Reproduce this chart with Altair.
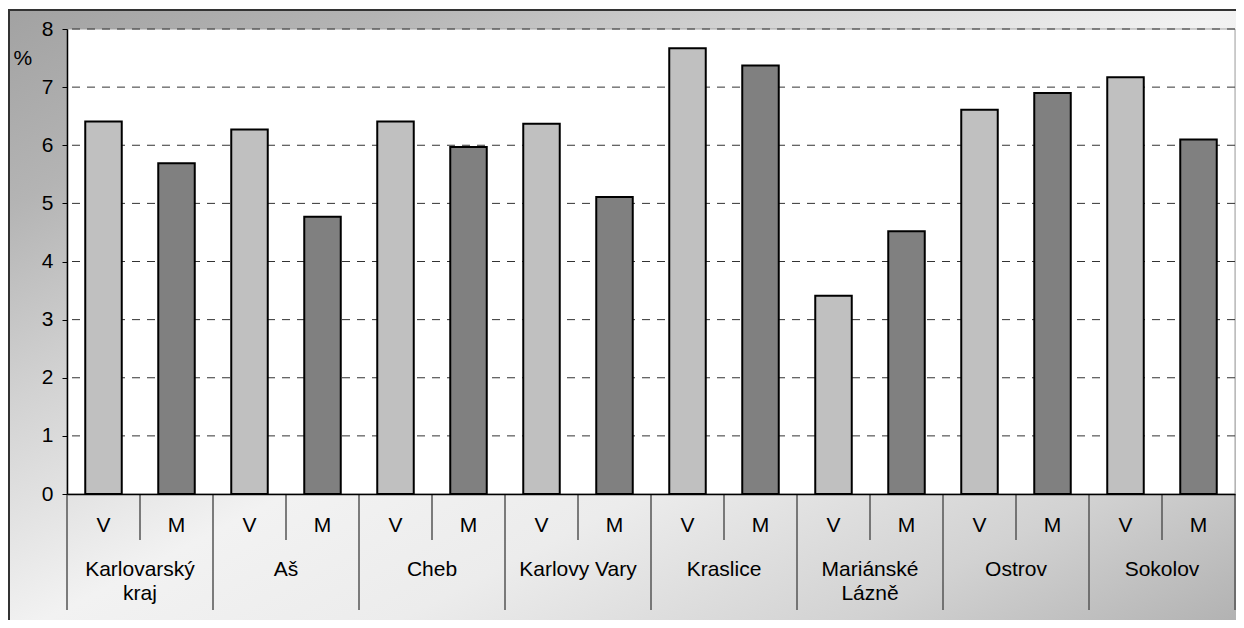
import altair as alt
import pandas as pd

# ---- data ----
regions = ["Karlovarský kraj", "Aš", "Cheb", "Karlovy Vary", "Kraslice",
           "Mariánské Lázně", "Ostrov", "Sokolov"]
region_labels = ["Karlovarský\nkraj", "Aš", "Cheb", "Karlovy Vary", "Kraslice",
                 "Mariánské\nLázně", "Ostrov", "Sokolov"]
groups = ["V", "M"]
v_values = [6.41, 6.27, 6.41, 6.37, 7.67, 3.41, 6.61, 7.17]
m_values = [5.69, 4.77, 5.97, 5.11, 7.37, 4.52, 6.90, 6.10]
y_ticks = [0, 1, 2, 3, 4, 5, 6, 7, 8]
y_title = "%"

W, H = 1168, 465
FONT = "Liberation Sans"
FS = 21

rows = []
for r, v, m in zip(regions, v_values, m_values):
    rows.append({"key": f"{r}|V", "region": r, "group": "V", "value": v})
    rows.append({"key": f"{r}|M", "region": r, "group": "M", "value": m})
df = pd.DataFrame(rows)
keys = list(df["key"])

x_scale = alt.Scale(domain=keys, paddingInner=0, paddingOuter=0)
y_scale = alt.Scale(domain=[0, 8], nice=False)

x_axis = alt.Axis(title=None, labelExpr="split(datum.label, '|')[1]", labelAngle=0,
                  ticks=False, tickSize=0, labelPadding=31, labelBaseline="middle",
                  labelFontSize=FS, labelFont=FONT, labelColor="black",
                  domainColor="black", domainWidth=1.5, grid=False, zindex=1)
y_axis = alt.Axis(values=y_ticks, title=y_title, titleAngle=0, titleX=-54, titleY=29,
                  titleAlign="left", titleBaseline="middle", titleFontSize=FS,
                  titleFontWeight="normal", titleFont=FONT, titleColor="black",
                  labelFontSize=FS, labelFont=FONT, labelColor="black", labelPadding=9,
                  tickSize=5, tickColor="black", domainColor="black", domainWidth=1.5,
                  grid=False, labelFlush=False, zindex=1)

one = pd.DataFrame({"a": [0]})

gradient = {
    "gradient": "linear", "x1": 0, "y1": 0, "x2": 1, "y2": 1,
    "stops": [
        {"offset": 0.0, "color": "#a2a2a2"},
        {"offset": 0.15, "color": "#b4b4b4"},
        {"offset": 0.3, "color": "#d2d2d2"},
        {"offset": 0.48, "color": "#f2f2f2"},
        {"offset": 0.62, "color": "#ececec"},
        {"offset": 0.8, "color": "#d2d2d2"},
        {"offset": 1.0, "color": "#a8a8a8"},
    ],
}

frame = alt.Chart(one).mark_rect(fill=gradient, stroke="#333333", strokeWidth=2).encode(
    x=alt.value(-58), x2=alt.value(W + 40), y=alt.value(-19), y2=alt.value(H + 170)
)
plot_bg = alt.Chart(one).mark_rect(fill="white", stroke="#a0a0a0", strokeWidth=1).encode(
    x=alt.value(0), x2=alt.value(W), y=alt.value(0), y2=alt.value(H)
)

grid_df = pd.DataFrame({"value": y_ticks[1:]})
grid = alt.Chart(grid_df).mark_rule(strokeDash=[8, 7], color="#333333", strokeWidth=1).encode(
    y=alt.Y("value:Q", scale=y_scale, axis=y_axis)
)

bars = alt.Chart(df).mark_bar(width=alt.RelativeBandSize(0.5), stroke="black", strokeWidth=2).encode(
    x=alt.X("key:N", scale=x_scale, axis=x_axis),
    y=alt.Y("value:Q", scale=y_scale, axis=y_axis),
    color=alt.Color("group:N", scale=alt.Scale(domain=groups, range=["#c0c0c0", "#808080"]), legend=None),
)

short_df = df[df["group"] == "M"][["key"]]
long_df = df[df["group"] == "V"][["key"]]
end_df = df.tail(1)[["key"]]

short_rules = alt.Chart(short_df).mark_rule(color="#555555", strokeWidth=1.5).encode(
    x=alt.X("key:N", scale=x_scale, axis=x_axis, bandPosition=0),
    y=alt.value(H), y2=alt.value(H + 46),
)
long_rules = alt.Chart(long_df).mark_rule(color="#555555", strokeWidth=1.5).encode(
    x=alt.X("key:N", scale=x_scale, axis=x_axis, bandPosition=0),
    y=alt.value(H), y2=alt.value(H + 116),
)
end_rule = alt.Chart(end_df).mark_rule(color="#555555", strokeWidth=1.5).encode(
    x=alt.X("key:N", scale=x_scale, axis=x_axis, bandPosition=1),
    y=alt.value(H), y2=alt.value(H + 116),
)

label_df = pd.DataFrame({"key": list(short_df["key"]), "label": region_labels})
region_text = alt.Chart(label_df).mark_text(
    baseline="top", align="center", fontSize=FS, font=FONT, color="black",
    lineBreak="\n", lineHeight=24,
).encode(
    x=alt.X("key:N", scale=x_scale, axis=x_axis, bandPosition=0),
    y=alt.value(530),
    text="label:N",
)

chart = alt.layer(
    frame, plot_bg, grid, bars, short_rules, long_rules, end_rule, region_text
).properties(
    width=W, height=H,
    autosize=alt.AutoSizeParams(type="none"),
    padding={"left": 59, "top": 21, "right": 1, "bottom": 126},
).configure_view(stroke=None)

chart.save("out.html", embed_options={"renderer": "svg", "actions": False})
